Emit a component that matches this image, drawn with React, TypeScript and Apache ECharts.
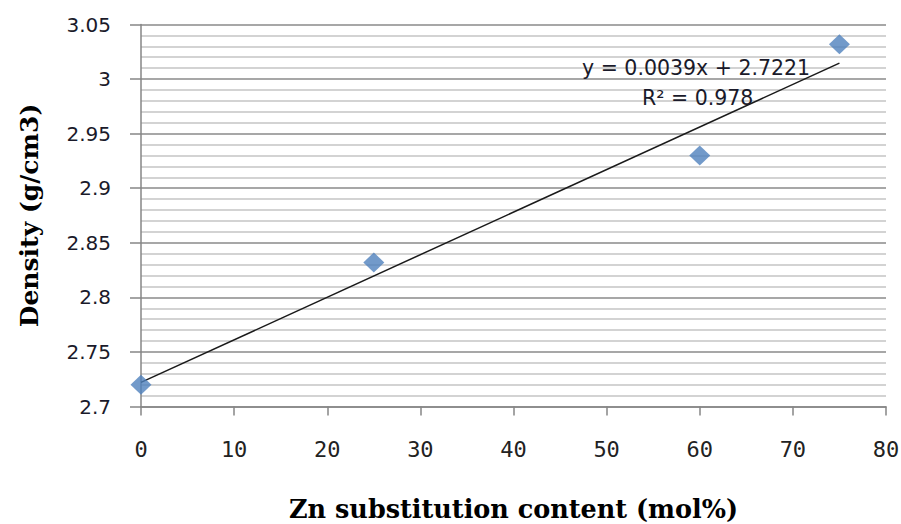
import React, { useEffect, useRef } from "react";
import * as echarts from "echarts";

const xValues = [0, 25, 60, 75];
const densities = [2.72, 2.832, 2.93, 3.032];
const slope = 0.0039;
const intercept = 2.7221;
const trendX = [0, 75];
const equationText = "y = 0.0039x + 2.7221";
const r2Text = "R² = 0.978";
const xTitle = "Zn substitution content (mol%)";
const yTitle = "Density (g/cm3)";

export default function App() {
  const ref = useRef<HTMLDivElement>(null);
  useEffect(() => {
    if (!ref.current) return;
    const chart = echarts.init(ref.current, null, { renderer: "svg" });
    const pts = xValues.map((x, i) => [x, densities[i]]);
    const trend = trendX.map((x) => [x, slope * x + intercept]);
    chart.setOption({
      animation: false,
      backgroundColor: "#ffffff",
      grid: { left: 141, right: 15, top: 24.5, bottom: 117.5, containLabel: false, outerBoundsMode: "none" },
      xAxis: {
        type: "value",
        min: 0,
        max: 80,
        interval: 10,
        name: xTitle,
        nameLocation: "middle",
        nameGap: 89,
        nameTextStyle: { fontFamily: "DejaVu Serif", fontWeight: "bold", fontSize: 25.5, color: "#000" },
        axisLine: { show: true, lineStyle: { color: "#868686", width: 1.5 } },
        axisTick: { show: true, length: 9, lineStyle: { color: "#868686", width: 1.5 } },
        axisLabel: { fontFamily: "DejaVu Sans Mono", fontSize: 22, color: "#222", margin: 32 },
        splitLine: { show: false },
      },
      yAxis: {
        type: "value",
        min: 2.7,
        max: 3.05,
        interval: 0.05,
        name: yTitle,
        nameLocation: "middle",
        nameGap: 99,
        nameRotate: 90,
        nameTextStyle: { fontFamily: "DejaVu Serif", fontWeight: "bold", fontSize: 25, color: "#000" },
        axisLine: { show: true, lineStyle: { color: "#868686", width: 1.5 } },
        axisTick: { show: true, length: 11, lineStyle: { color: "#868686", width: 1.5 } },
        axisLabel: {
          fontFamily: "DejaVu Sans",
          fontSize: 20,
          color: "#1a1a2a",
          margin: 30,
          formatter: (v: number) => String(parseFloat(v.toFixed(2))),
        },
        splitLine: { show: true, lineStyle: { color: "#8a8a8a", width: 1.5 } },
        minorTick: { show: false, splitNumber: 5 },
        minorSplitLine: { show: true, lineStyle: { color: "#c4c4c4", width: 1.5 } },
      },
      series: [
        {
          type: "line",
          data: trend,
          symbol: "none",
          lineStyle: { color: "#1a1a1a", width: 1.5 },
          z: 2,
        },
        {
          type: "scatter",
          data: pts,
          symbol: "diamond",
          symbolSize: [21, 20],
          itemStyle: { color: "#4F81BD" },
          z: 3,
        },
      ],
      graphic: [
        {
          type: "text",
          left: 582,
          top: 57,
          z: 10,
          style: { text: equationText, fontFamily: "DejaVu Sans", fontSize: 20.5, fill: "#1a1a2a" },
        },
        {
          type: "text",
          left: 642,
          top: 87,
          z: 10,
          style: { text: r2Text, fontFamily: "DejaVu Sans", fontSize: 20.5, fill: "#1a1a2a" },
        },
      ],
    });
    return () => chart.dispose();
  }, []);
  return <div ref={ref} style={{ width: 901, height: 524, position: "absolute", left: 0, top: 0 }} />;
}
